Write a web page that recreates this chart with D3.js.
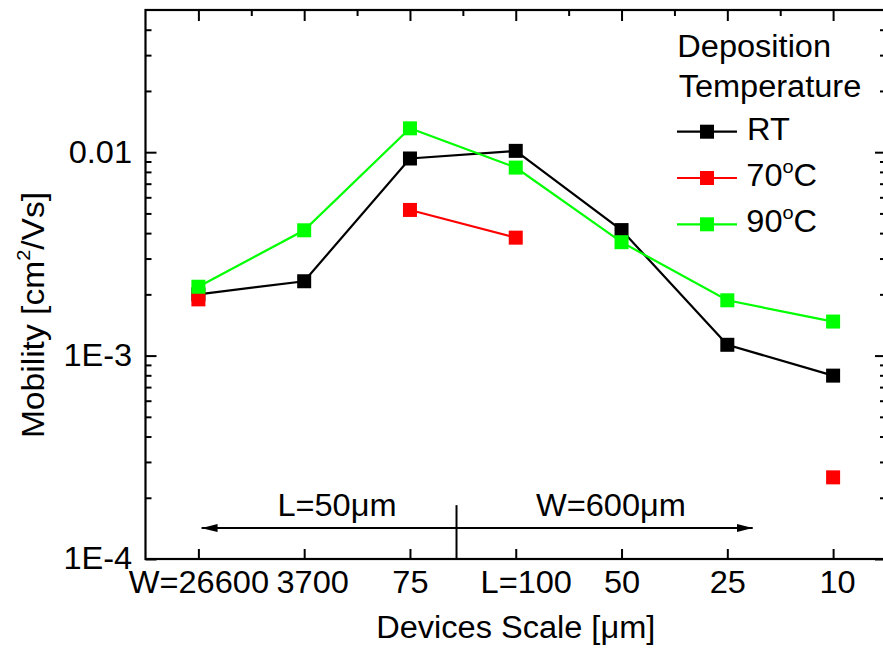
<!DOCTYPE html>
<html lang="en">
<head>
<meta charset="utf-8">
<title>Mobility vs Devices Scale</title>
<style>
  body { margin: 0; background: #fff; }
  svg { display: block; background: #fff; font-family: "Liberation Sans", Arial, sans-serif; }
  .axis line { stroke: #000; stroke-width: 2; }
  .axis text { font-size: 31px; fill: #000; font-family: "Liberation Sans", Arial, sans-serif; }
  .wide { transform-box: fill-box; transform-origin: center; transform: scaleX(1.05); }
</style>
<script src="https://d3js.org/d3.v7.min.js"></script>
</head>
<body>
<script>
// categories along the x axis (device scale)
const categories = ["W=26600", "3700", "75", "L=100", "50", "25", "10"]
// mobility values, cm2/Vs (null = no measurement)
const rtValues  = [0.00200, 0.00232, 0.00931, 0.01015, 0.00414, 0.00113, 0.000797]
const t70Values = [0.00189, null,    0.00520, 0.00380, null,    null,    0.000252]
const t90Values = [0.00218, 0.00413, 0.0131,  0.0084,  0.00361, 0.00187, 0.00147]
const yTickValues = [1e-4, 1e-3, 1e-2]
const yTickLabels = ["1E-4", "1E-3", "0.01"]

const seriesNames = ["RT", "70", "90"]
const seriesColors = ["#000000", "#ff0000", "#00ff00"]

let width = 883
let height = 650
let plotLeft = 145.5, plotRight = 886, plotTop = 10, plotBottom = 559
let fs = 31

let svg = d3.select("body").append("svg")
    .attr("width", width)
    .attr("height", height)

let xScale = d3.scaleLinear().domain([-0.5, 6.5]).range([plotLeft, plotRight])
let yScale = d3.scaleLog().domain([1e-4, 0.05]).range([plotBottom, plotTop])

// minor log ticks 2..9 in every decade inside the domain
let minorY = []
for (let e = -4; e <= -2; e++) {
    for (let m = 2; m <= 9; m++) {
        let v = m * Math.pow(10, e)
        if (v < 0.05) minorY.push(v)
    }
}

let drawAxes = () => {
    let noLabel = () => ""

    svg.append("g").attr("class", "axis")
        .attr("transform", `translate(${plotLeft},0)`)
        .call(d3.axisLeft(yScale).tickValues(yTickValues).tickSize(-11).tickPadding(15)
            .tickFormat((d, i) => yTickLabels[i]))
    svg.append("g").attr("class", "axis")
        .attr("transform", `translate(${plotLeft},0)`)
        .call(d3.axisLeft(yScale).tickValues(minorY).tickSize(-6).tickFormat(noLabel))

    svg.append("g").attr("class", "axis")
        .attr("transform", `translate(${plotRight},0)`)
        .call(d3.axisRight(yScale).tickValues(yTickValues).tickSize(-11).tickFormat(noLabel))
    svg.append("g").attr("class", "axis")
        .attr("transform", `translate(${plotRight},0)`)
        .call(d3.axisRight(yScale).tickValues(minorY).tickSize(-6).tickFormat(noLabel))

    svg.append("g").attr("class", "axis")
        .attr("transform", `translate(0,${plotTop})`)
        .call(d3.axisTop(xScale).tickValues(d3.range(7)).tickSize(-11).tickFormat(noLabel))
    svg.append("g").attr("class", "axis")
        .attr("transform", `translate(0,${plotTop})`)
        .call(d3.axisTop(xScale).tickValues(d3.range(0.5, 6, 1)).tickSize(-6).tickFormat(noLabel))

    let xAxis = svg.append("g").attr("class", "axis")
        .attr("transform", `translate(0,${plotBottom})`)
        .call(d3.axisBottom(xScale).tickValues(d3.range(7)).tickSize(-10).tickPadding(12)
            .tickFormat((d, i) => categories[i]))
    // the 3700 and L=100 labels sit a little right of their ticks
    xAxis.selectAll("text").attr("dx", (d) => (d === 1 ? 8 : d === 3 ? 10 : d === 6 ? 4 : 0))

    svg.selectAll(".axis .domain").remove()
    svg.selectAll(".axis text").classed("wide", true)

    svg.append("rect")
        .attr("x", plotLeft).attr("y", plotTop)
        .attr("width", plotRight - plotLeft).attr("height", plotBottom - plotTop)
        .attr("fill", "none").attr("stroke", "#000").attr("stroke-width", 2.2)
}

let drawTitles = () => {
    svg.append("text")
        .attr("class", "wide")
        .attr("x", (plotLeft + plotRight) / 2)
        .attr("y", 638)
        .attr("text-anchor", "middle")
        .attr("font-size", fs)
        .text("Devices Scale [\u03bcm]")

    let g = svg.append("g").attr("transform", "translate(44,315) rotate(-90)")
    let t = g.append("text")
        .attr("class", "wide")
        .attr("text-anchor", "middle")
        .attr("font-size", 32)
    t.append("tspan").text("Mobility [cm")
    t.append("tspan").attr("font-size", 19).attr("dy", -14).text("2")
    t.append("tspan").attr("dy", 14).text("/Vs]")
}

let drawAnnotations = () => {
    let defs = svg.append("defs")
    defs.append("marker")
        .attr("id", "arrow")
        .attr("viewBox", "0 0 16 8")
        .attr("refX", 16).attr("refY", 4)
        .attr("markerWidth", 16).attr("markerHeight", 8)
        .attr("markerUnits", "userSpaceOnUse")
        .attr("orient", "auto")
        .append("path").attr("d", "M0,0 L16,4 L0,8 Z").attr("fill", "#000")

    let ay = yScale(1.42e-4)
    let mid = xScale(2.44)
    svg.append("line")
        .attr("x1", mid).attr("x2", mid)
        .attr("y1", yScale(1.84e-4)).attr("y2", plotBottom)
        .attr("stroke", "#000").attr("stroke-width", 2)
    svg.append("line")
        .attr("x1", mid).attr("x2", xScale(0.03))
        .attr("y1", ay).attr("y2", ay)
        .attr("stroke", "#000").attr("stroke-width", 2)
        .attr("marker-end", "url(#arrow)")
    svg.append("line")
        .attr("x1", mid).attr("x2", xScale(5.24))
        .attr("y1", ay).attr("y2", ay)
        .attr("stroke", "#000").attr("stroke-width", 2)
        .attr("marker-end", "url(#arrow)")

    svg.append("text").attr("class", "wide")
        .attr("x", xScale(1.31)).attr("y", ay - 12)
        .attr("text-anchor", "middle").attr("font-size", fs)
        .text("L=50\u03bcm")
    svg.append("text").attr("class", "wide")
        .attr("x", xScale(3.9)).attr("y", ay - 12)
        .attr("text-anchor", "middle").attr("font-size", fs)
        .text("W=600\u03bcm")
}

let drawSeries = () => {
    let all = [rtValues, t70Values, t90Values]
    let line = d3.line()
        .defined((d) => d != null)
        .x((d, i) => xScale(i))
        .y((d) => yScale(d))

    all.forEach((vals, s) => {
        svg.append("path")
            .attr("d", line(vals))
            .attr("fill", "none")
            .attr("stroke", seriesColors[s])
            .attr("stroke-width", 2.2)
        svg.append("g").selectAll("rect")
            .data(vals.map((v, i) => ({ v, i })).filter((d) => d.v != null))
            .enter()
            .append("rect")
            .attr("x", (d) => xScale(d.i) - 7)
            .attr("y", (d) => yScale(d.v) - 7)
            .attr("width", 14)
            .attr("height", 14)
            .attr("fill", seriesColors[s])
    })
}

let drawLegend = () => {
    let legend = svg.append("g")
    legend.append("text").attr("class", "wide")
        .attr("x", 681).attr("y", 57).attr("font-size", fs).text("Deposition")
    legend.append("text").attr("class", "wide")
        .attr("x", 683).attr("y", 97).attr("font-size", fs).text("Temperature")

    seriesNames.forEach((name, s) => {
        let cy = 131.7 + s * 46.3
        legend.append("line")
            .attr("x1", 677).attr("x2", 737)
            .attr("y1", cy).attr("y2", cy)
            .attr("stroke", seriesColors[s]).attr("stroke-width", 2.2)
        legend.append("rect")
            .attr("x", 700).attr("y", cy - 7)
            .attr("width", 14).attr("height", 14)
            .attr("fill", seriesColors[s])
        let t = legend.append("text").attr("class", "wide")
            .attr("x", 748).attr("y", cy + 8).attr("font-size", fs)
        if (s === 0) {
            t.text(name)
        } else {
            t.append("tspan").text(name)
            t.append("tspan").attr("font-size", 19).attr("dy", -13).text("o")
            t.append("tspan").attr("dy", 13).text("C")
        }
    })
}

drawAxes()
drawTitles()
drawAnnotations()
drawSeries()
drawLegend()
</script>
</body>
</html>
